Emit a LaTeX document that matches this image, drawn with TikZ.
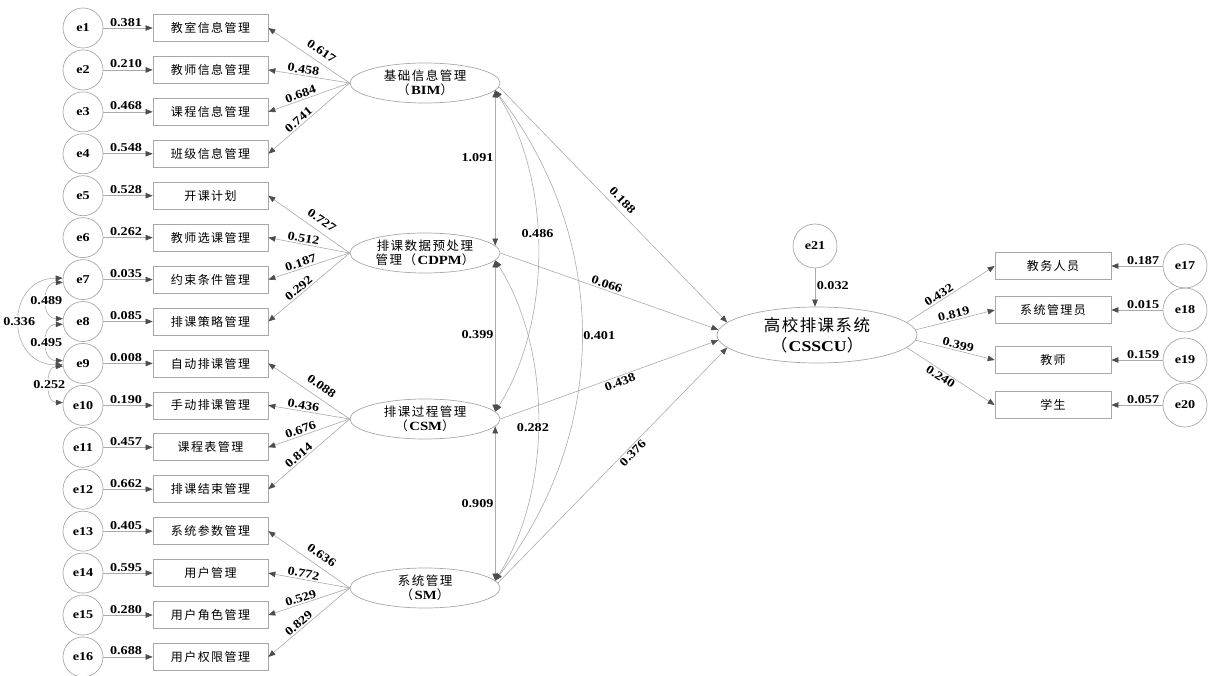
\documentclass[tikz,border=0pt]{standalone}
\usepackage{fontspec}
\setmainfont{Liberation Serif}[FakeStretch=1.18]
\newfontfamily\cjk[LetterSpace=12]{Noto Sans CJK SC}
\newfontfamily\cjkbig[LetterSpace=9]{Noto Sans CJK SC}
\usetikzlibrary{arrows.meta,shapes.geometric}
\definecolor{ln}{HTML}{ABABAB}
\definecolor{bd}{HTML}{A8A8A8}
\definecolor{tipc}{HTML}{4D4D4D}
\begin{document}
\begin{tikzpicture}[x=1pt,y=-1pt,
  >={Triangle[length=7pt,width=5.5pt,color=tipc]},
  err/.style={circle,draw=bd,line width=0.7pt,minimum size=40pt,inner sep=0pt,font=\bfseries\fontsize{12}{12}\selectfont},
  errb/.style={err,minimum size=44pt},
  obs/.style={rectangle,draw=bd,line width=0.7pt,minimum width=115pt,minimum height=27pt,inner sep=0pt,font=\cjk\fontsize{12}{12}\selectfont},
  lat/.style={ellipse,draw=bd,line width=0.7pt,minimum width=150pt,minimum height=40pt,inner sep=0pt,align=center,font=\fontsize{12.5}{14.5}\selectfont},
  pth/.style={draw=ln,line width=0.6pt,->},
  cov/.style={draw=ln,line width=0.6pt,<->},
  num/.style={font=\bfseries\fontsize{12}{12}\selectfont,inner sep=1.5pt,text=black},
  wnum/.style={num,fill=white,inner sep=1pt},
]
\path[use as bounding box] (0,0) rectangle (1218,676);

% ---------- left indicators ----------
\foreach \t [count=\i] in {教室信息管理,教师信息管理,课程信息管理,班级信息管理,开课计划,教师选课管理,约束条件管理,排课策略管理,自动排课管理,手动排课管理,课程表管理,排课结束管理,系统参数管理,用户管理,用户角色管理,用户权限管理}{
  \node[err] (e\i) at (83,{28+(\i-1)*41.93}) {e\i};
  \node[obs] (b\i) at (210.5,{28+(\i-1)*41.93}) {\t};
}
\foreach \v [count=\i] in {0.381,0.210,0.468,0.548,0.528,0.262,0.035,0.085,0.008,0.190,0.457,0.662,0.405,0.595,0.280,0.688}{
  \draw[pth] (e\i) -- node[num,above,pos=0.46]{\v} (b\i);
}

% ---------- latent variables ----------
\node[lat] (BIM) at (425,83) {{\cjk 基础信息管理}\\{\cjk （}\textbf{BIM}{\cjk ）}};
\node[lat] (CDPM) at (425,253) {{\cjk 排课数据预处理}\\{\cjk 管理（}\textbf{CDPM}{\cjk ）}};
\node[lat] (CSM) at (425,419) {{\cjk 排课过程管理}\\{\cjk （}\textbf{CSM}{\cjk ）}};
\node[lat] (SM) at (425,588) {{\cjk 系统管理}\\{\cjk （}\textbf{SM}{\cjk ）}};

% latent -> indicators
\draw[pth] (BIM.west) -- node[num,sloped,above=5pt,pos=0.42]{0.617} (b1.east);
\draw[pth] (BIM.west) -- node[num,sloped,above,pos=0.58]{0.458} (b2.east);
\draw[pth] (BIM.west) -- node[num,sloped,above,pos=0.58]{0.684} (b3.east);
\draw[pth] (BIM.west) -- node[num,sloped,above,pos=0.58]{0.741} (b4.east);
\draw[pth] (CDPM.west) -- node[num,sloped,above=5pt,pos=0.42]{0.727} (b5.east);
\draw[pth] (CDPM.west) -- node[num,sloped,above,pos=0.58]{0.512} (b6.east);
\draw[pth] (CDPM.west) -- node[num,sloped,above,pos=0.58]{0.187} (b7.east);
\draw[pth] (CDPM.west) -- node[num,sloped,above,pos=0.58]{0.292} (b8.east);
\draw[pth] (CSM.west) -- node[num,sloped,above=5pt,pos=0.42]{0.088} (b9.east);
\draw[pth] (CSM.west) -- node[num,sloped,above,pos=0.58]{0.436} (b10.east);
\draw[pth] (CSM.west) -- node[num,sloped,above,pos=0.58]{0.676} (b11.east);
\draw[pth] (CSM.west) -- node[num,sloped,above,pos=0.58]{0.814} (b12.east);
\draw[pth] (SM.west) -- node[num,sloped,above=5pt,pos=0.42]{0.636} (b13.east);
\draw[pth] (SM.west) -- node[num,sloped,above,pos=0.58]{0.772} (b14.east);
\draw[pth] (SM.west) -- node[num,sloped,above,pos=0.58]{0.529} (b15.east);
\draw[pth] (SM.west) -- node[num,sloped,above,pos=0.58]{0.829} (b16.east);

% error covariances (left)
\draw[cov] (e7.188) .. controls +(-22,0) and +(-22,0) .. node[wnum,pos=0.5]{0.489} (e8.172);
\draw[cov] (e8.188) .. controls +(-22,0) and +(-22,0) .. node[wnum,pos=0.5]{0.495} (e9.172);
\draw[cov] (e9.188) .. controls +(-18,0) and +(-18,0) .. node[wnum,pos=0.5]{0.252} (e10.172);
\draw[cov] (e7.176) .. controls +(-58,0) and +(-58,0) .. node[wnum,pos=0.5]{0.336} (e9.184);

% latent covariances
\draw[cov] (BIM.-6) -- node[num,left,pos=0.43]{1.091} (CDPM.6);
\draw[cov] (CDPM.-6) -- node[num,left,pos=0.49]{0.399} (CSM.6);
\draw[cov] (CSM.-6) -- node[num,left,pos=0.5]{0.909} (SM.6);
\draw[cov] (BIM.-6) .. controls +(57,90) and +(57,-90) .. node[wnum,pos=0.45]{0.486} (CSM.6);
\draw[cov] (CDPM.-6) .. controls +(57,90) and +(57,-90) .. node[wnum,pos=0.52,xshift=-5pt]{0.282} (SM.6);
\draw[cov] (BIM.-6) .. controls +(115,150) and +(115,-150) .. node[num,right,pos=0.5]{0.401} (SM.6);

% ---------- outcome ----------
\node[lat,minimum width=200pt,minimum height=56pt,font=\fontsize{16.5}{20}\selectfont] (C) at (817,335) {{\cjkbig 高校排课系统}\\{\cjkbig （}{\fontsize{15}{20}\selectfont\textbf{CSSCU}}{\cjkbig ）}};
\node[errb] (e21) at (815,246) {e21};
\draw[pth] (e21) -- node[num,right,pos=0.45]{0.032} (e21 |- C.north);

\draw[pth] (BIM.-3) -- node[num,sloped,above=4pt,pos=0.51]{0.188} (C.172);
\draw[pth] (CDPM.east) -- node[num,sloped,above,pos=0.48]{0.066} (C.177);
\draw[pth] (CSM.east) -- node[num,sloped,below,pos=0.54]{0.438} (C.-177);
\draw[pth] (SM.4) -- node[num,sloped,below,pos=0.57]{0.376} (C.-172);

% right indicators
\foreach \t/\y [count=\i from 17] in {教务人员/266,系统管理员/310,教师/360,学生/405}{
  \node[obs,minimum width=116pt] (r\i) at (1053,\y) {\t};
  \node[errb] (e\i) at (1185,\y) {e\i};
}
\draw[pth] (e17) -- node[num,above,pos=0.38]{0.187} (r17);
\draw[pth] (e18) -- node[num,above,pos=0.38]{0.015} (r18);
\draw[pth] (e19) -- node[num,above,pos=0.38]{0.159} (r19);
\draw[pth] (e20) -- node[num,above,pos=0.38]{0.057} (r20);

\draw[pth] (C.8) -- node[num,sloped,above,pos=0.4]{0.432} (r17.west);
\draw[pth] (C.3) -- node[num,sloped,above,pos=0.5]{0.819} (r18.west);
\draw[pth] (C.-3) -- node[num,sloped,above,pos=0.52]{0.399} (r19.west);
\draw[pth] (C.-8) -- node[num,sloped,below,pos=0.42]{0.240} (r20.west);
\end{tikzpicture}
\end{document}
